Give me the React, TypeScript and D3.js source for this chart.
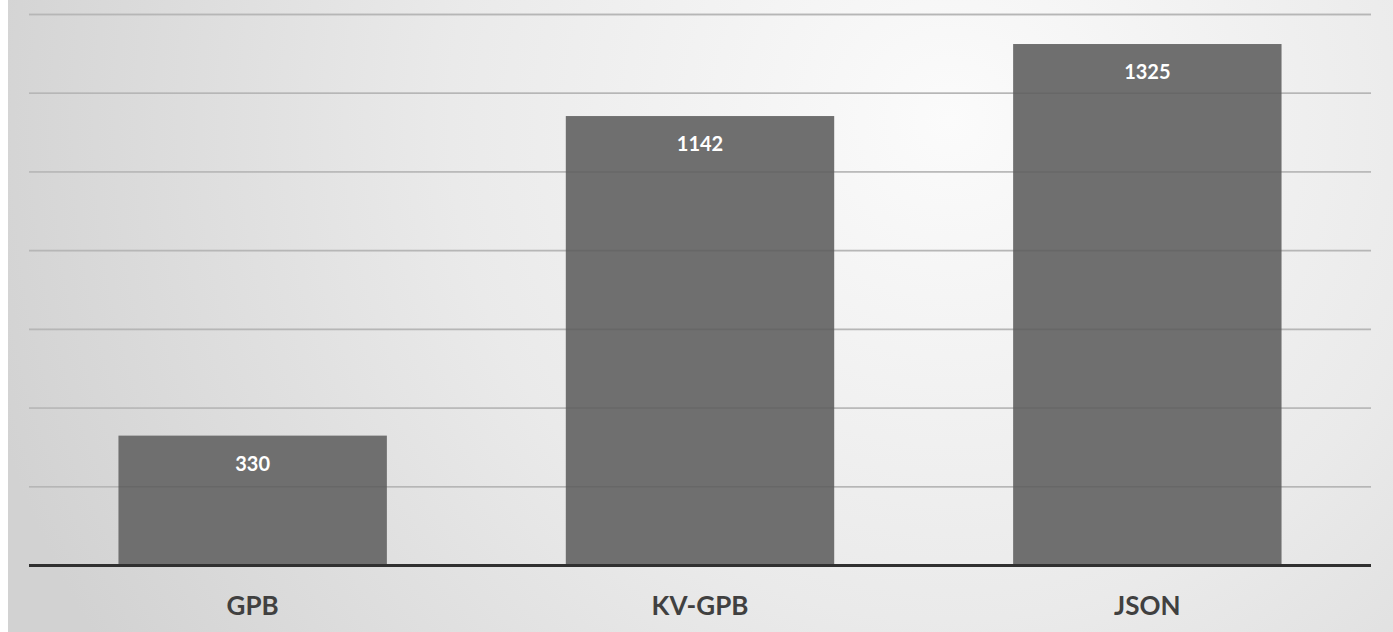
import React from "react";
import * as d3 from "d3";

const categories = ["GPB", "KV-GPB", "JSON"];
const values = [330, 1142, 1325];
const yTicks = [200, 400, 600, 800, 1000, 1200, 1400];

const W = 1393;
const H = 632;

export default function App() {
  const x = d3.scaleBand<string>().domain(categories).range([29, 1371]).paddingInner(0.4).paddingOuter(0.2);
  const y = d3.scaleLinear().domain([0, 1400]).range([565.5, 14.5]);
  const font = "Lato, 'Open Sans', sans-serif";
  return (
    <svg width={W} height={H} style={{ position: "absolute", left: 0, top: 0, display: "block" }}>
      <defs>
        <radialGradient id="bg" gradientUnits="userSpaceOnUse" cx={950} cy={120} r={1000}>
          <stop offset="0" stopColor="#fbfbfb" />
          <stop offset="0.5" stopColor="#eaeaea" />
          <stop offset="1" stopColor="#d2d2d2" />
        </radialGradient>
      </defs>
      <rect x={0} y={0} width={W} height={H} fill="#ffffff" />
      <rect x={8} y={0} width={W - 8} height={H} fill="url(#bg)" />
      {yTicks.map((t) => (
        <line key={"g" + t} x1={29} x2={1371} y1={y(t)} y2={y(t)} stroke="#c4c4c4" strokeWidth={1.8} />
      ))}
      {categories.map((c, i) => (
        <rect key={"b" + c} x={x(c)} y={y(values[i])} width={x.bandwidth()} height={y(0) - y(values[i])} fill="#6f6f6f" />
      ))}
      {yTicks.map((t) => (
        <line key={"o" + t} x1={29} x2={1371} y1={y(t)} y2={y(t)} stroke="#000" strokeOpacity={0.07} strokeWidth={1.6} />
      ))}
      <line x1={29} x2={1371} y1={y(0)} y2={y(0)} stroke="#303030" strokeWidth={3} />
      {categories.map((c, i) => (
        <text key={"v" + c} x={(x(c) as number) + x.bandwidth() / 2} y={y(values[i]) + 35} textAnchor="middle"
          fill="#ffffff" fontFamily={font} fontWeight={700} fontSize={20}>{values[i]}</text>
      ))}
      {categories.map((c) => (
        <text key={"c" + c} x={(x(c) as number) + x.bandwidth() / 2} y={615} textAnchor="middle"
          fill="#404040" fontFamily={font} fontWeight={700} fontSize={26}>{c}</text>
      ))}
    </svg>
  );
}
